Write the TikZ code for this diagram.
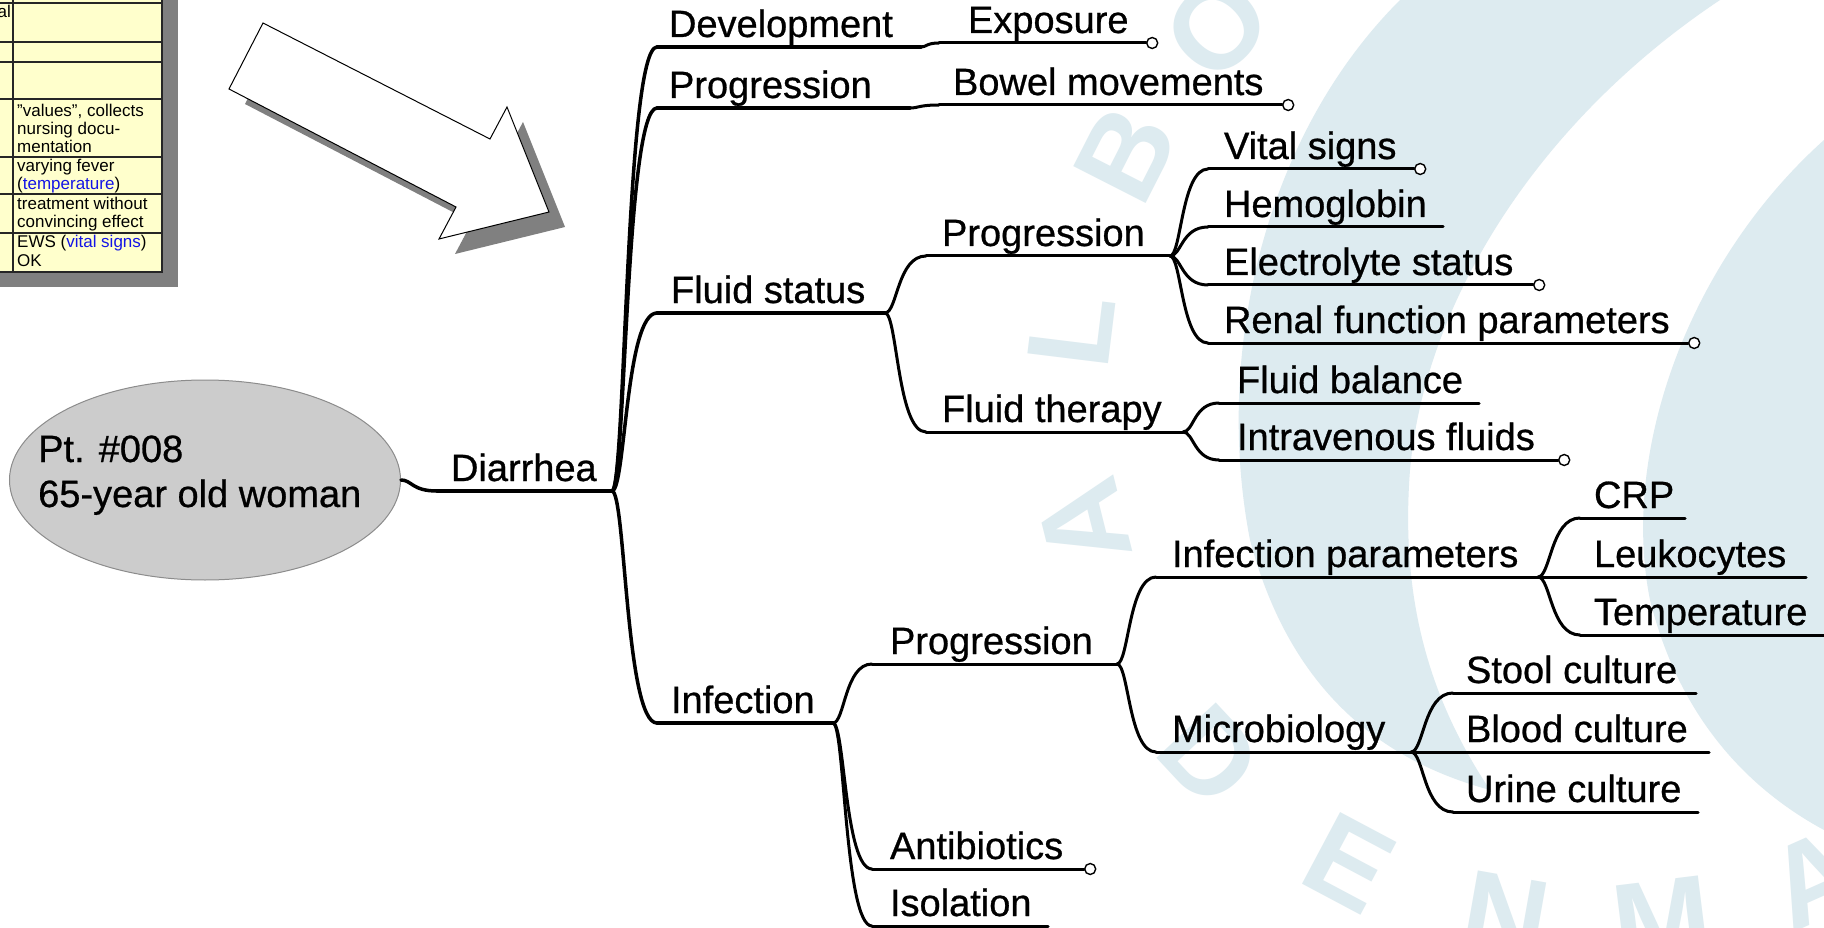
\documentclass[tikz,border=0pt]{standalone}
\usepackage{fontspec}
\setmainfont{Liberation Sans}
\newfontfamily\mapfont{Liberation Sans}[FakeBold=0.7]
\usetikzlibrary{calc,shapes.geometric}

\definecolor{wmblue}{RGB}{221,235,240}
\definecolor{tabfill}{RGB}{255,255,204}
\definecolor{shadowgray}{RGB}{128,128,128}
\definecolor{rootfill}{RGB}{204,204,204}
\definecolor{rootline}{RGB}{140,140,140}
\definecolor{linkblue}{RGB}{20,20,230}

% label of a branch: box as wide as its underline, text indented from the start
\newcommand\brlabel[3]{\makebox[#1pt][l]{\hspace*{#2pt}#3}}
% curved connector: leaves horizontally, runs vertically, enters horizontally
\newcommand\conn[3][]{%
  \path ($(#2)!0.3!(#3)$) coordinate (cm);
  \draw[link,#1] (#2) .. controls (cm |- #2) and (cm |- #3) .. (#3);}

\begin{document}
\begin{tikzpicture}[x=1pt,y=-1pt,
  br/.style={anchor=south west, inner sep=0pt, outer sep=0pt,
    text height=30pt, text depth=10pt, font=\mapfont\fontsize{38}{45}\selectfont},
  link/.style={line width=3pt, line cap=round},
  trunk/.style={line width=3.5pt},
  dot/.style={circle, draw, fill=white, line width=1.4pt, minimum size=11pt,
    inner sep=0pt, anchor=west},
  wm/.style={text=wmblue, inner sep=0pt, font=\fontsize{118}{118}\selectfont\bfseries},
  tabtext/.style={anchor=base west, inner sep=0pt, font=\fontsize{17}{18.5}\selectfont},
  tabrule/.style={draw=black!85, line width=1.1pt},
]
\useasboundingbox (0,0) rectangle (1824,928);
\begin{scope}
\clip (0,0) rectangle (1824,928);
\fill[white] (0,0) rectangle (1824,928);

% ---- watermark seal ----
\fill[wmblue] (1400,0) .. controls (1260,140) and (1215,360) .. (1250,540)
  .. controls (1290,690) and (1380,760) .. (1490,790)
  .. controls (1430,700) and (1400,600) .. (1410,470)
  .. controls (1425,300) and (1540,120) .. (1720,0) -- cycle;
\fill[wmblue] (1824,140) .. controls (1690,260) and (1620,450) .. (1650,600)
  .. controls (1680,720) and (1750,790) .. (1824,830) -- cycle;
\foreach \ch/\ang/\rot in {D/137/-47, E/118/-28, N/100/-10, M/83/7, A/66/24,
                           A/166/104, L/187/83, B/207/63, O/224/46}
  \node[wm, rotate=\rot] (wm-\ang) at ($(1598,395)+(\ang:530)$) {\ch};

% ---- table fragment ----
\fill[shadowgray] (-30,-30) rectangle (178,287);
\fill[tabfill] (-30,-30) rectangle (162,272);
\draw[tabrule] (-30,272) -- (162,272) -- (162,-30);
\foreach \yy in {3,42,62,99,157,194,233}
  \draw[tabrule] (-30,\yy) -- (162,\yy);
\draw[tabrule] (13,-30) -- (13,272);
\node[tabtext, anchor=base east] (t0) at (11,18) {al};
\node[tabtext] (t1) at (17,117) {"values", collects};
\node[tabtext] (t2) at (17,135) {nursing docu-};
\node[tabtext] (t3) at (17,153) {mentation};
\node[tabtext] (t4) at (17,172) {varying fever};
\node[tabtext] (t5) at (17,190) {(\textcolor{linkblue}{temperature})};
\node[tabtext] (t6) at (17,210) {treatment without};
\node[tabtext] (t7) at (17,228) {convincing effect};
\node[tabtext] (t8) at (17,248) {EWS (\textcolor{linkblue}{vital signs})};
\node[tabtext] (t9) at (17,267) {OK};

% ---- block arrow ----
\begin{scope}[shift={(16,15)}]
  \fill[shadowgray] (263,23) -- (490,139) -- (507,107) -- (549,212) -- (439,239)
    -- (456,207) -- (229,89) -- cycle;
\end{scope}
\filldraw[fill=white, draw=black, line width=1pt] (263,23) -- (490,139)
  -- (507,107) -- (549,212) -- (439,239) -- (456,207) -- (229,89) -- cycle;

% ---- central topic ----
\node[ellipse, draw=rootline, fill=rootfill, line width=1pt, minimum width=391pt,
  minimum height=200pt, inner sep=0pt] (pt) at (205,480) {};
\node[align=left, inner sep=0pt, anchor=base west,
  font=\mapfont\fontsize{38}{45}\selectfont] (ptlabel) at (38,507)
  {Pt. \#008\\65-year old woman};

% ---- branches ----
\node[br] (dia) at (437,491) {\brlabel{175}{14}{Diarrhea}};
\node[br] (dev) at (657,47)  {\brlabel{264}{12}{Development}};
\node[br] (exp) at (939,43)  {\brlabel{207}{29}{Exposure}};
\node[br] (prg) at (657,108) {\brlabel{253}{12}{Progression}};
\node[br] (bow) at (939,105) {\brlabel{343}{14}{Bowel movements}};
\node[br] (fls) at (657,313) {\brlabel{228}{14}{Fluid status}};
\node[br] (inf) at (657,723) {\brlabel{176}{14}{Infection}};
\node[br] (fpr) at (926,256) {\brlabel{244}{16}{Progression}};
\node[br] (fth) at (926,432) {\brlabel{257}{16}{Fluid therapy}};
\node[br] (vit) at (1208,169) {\brlabel{206}{16}{Vital signs}};
\node[br] (hem) at (1208,227) {\brlabel{235}{16}{Hemoglobin}};
\node[br] (ele) at (1208,285) {\brlabel{325}{16}{Electrolyte status}};
\node[br] (ren) at (1208,343) {\brlabel{480}{16}{Renal function parameters}};
\node[br] (fba) at (1219,403) {\brlabel{260}{18}{Fluid balance}};
\node[br] (ivf) at (1219,460) {\brlabel{339}{18}{Intravenous fluids}};
\node[br] (ipr) at (872,664) {\brlabel{245}{18}{Progression}};
\node[br] (abx) at (872,869) {\brlabel{212}{18}{Antibiotics}};
\node[br] (iso) at (872,926) {\brlabel{176}{18}{Isolation}};
\node[br] (ipa) at (1156,577) {\brlabel{382}{16}{Infection parameters}};
\node[br] (mic) at (1156,752) {\brlabel{255}{16}{Microbiology}};
\node[br] (crp) at (1580,518) {\brlabel{105}{14}{CRP}};
\node[br] (leu) at (1580,577) {\brlabel{226}{14}{Leukocytes}};
\node[br] (tem) at (1580,635) {\brlabel{260}{14}{Temperature}};
\node[br] (sto) at (1453,693) {\brlabel{243}{13}{Stool culture}};
\node[br] (blo) at (1453,752) {\brlabel{256}{13}{Blood culture}};
\node[br] (uri) at (1453,812) {\brlabel{245}{13}{Urine culture}};

% underlines
\foreach \n in {dia,dev,prg,fls,inf}
  \draw[link,trunk] (\n.south west) -- (\n.south east);
\foreach \n in {exp,bow,fpr,fth,vit,hem,ele,ren,fba,ivf,ipr,abx,iso,ipa,mic,
                crp,leu,tem,sto,blo,uri}
  \draw[link] (\n.south west) -- (\n.south east);

% connectors
\conn[trunk]{pt.east}{dia.south west}
\foreach \n in {dev,prg,fls,inf}
  {\conn[trunk]{dia.south east}{\n.south west}}
\conn{dev.south east}{exp.south west}
\conn{prg.south east}{bow.south west}
\foreach \n in {fpr,fth} {\conn{fls.south east}{\n.south west}}
\foreach \n in {vit,hem,ele,ren} {\conn{fpr.south east}{\n.south west}}
\foreach \n in {fba,ivf} {\conn{fth.south east}{\n.south west}}
\foreach \n in {ipr,abx,iso} {\conn{inf.south east}{\n.south west}}
\foreach \n in {ipa,mic} {\conn{ipr.south east}{\n.south west}}
\foreach \n in {crp,leu,tem} {\conn{ipa.south east}{\n.south west}}
\foreach \n in {sto,blo,uri} {\conn{mic.south east}{\n.south west}}

% end markers of branches with attached notes
\foreach \n in {exp,bow,vit,ele,ren,ivf,abx}
  \node[dot] (\n-o) at (\n.south east) {};
\end{scope}
\end{tikzpicture}
\end{document}
